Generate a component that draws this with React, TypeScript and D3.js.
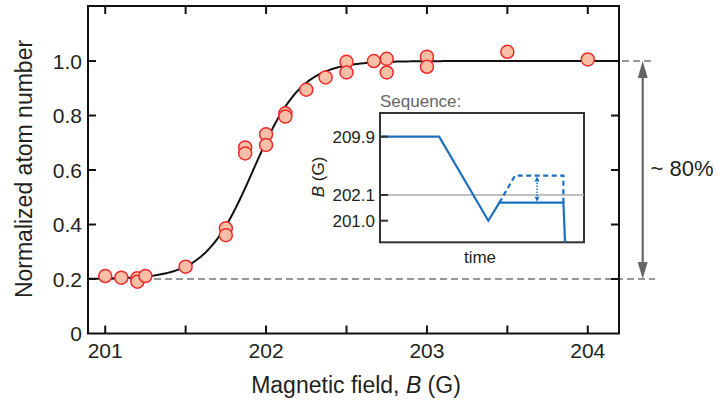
import React from "react";
import * as d3 from "d3";

// ---- Data ----
const fieldB = [201.0, 201.1, 201.2, 201.2, 201.25, 201.5, 201.75, 201.75, 201.87, 201.87, 202.0, 202.0, 202.12, 202.12, 202.25, 202.37, 202.5, 202.5, 202.67, 202.75, 202.75, 203.0, 203.0, 203.5, 204.0];
const atomNumber = [0.211, 0.205, 0.203, 0.19, 0.211, 0.245, 0.386, 0.361, 0.683, 0.661, 0.731, 0.692, 0.808, 0.796, 0.895, 0.94, 0.997, 0.958, 1.0, 1.008, 0.958, 1.016, 0.979, 1.034, 1.006];
const xMajorTicks = [201, 202, 203, 204];
const xAllTicks = [201, 201.5, 202, 202.5, 203, 203.5, 204];
const yTicks = [0, 0.2, 0.4, 0.6, 0.8, 1.0];
const yTickLabels = ["0", "0.2", "0.4", "0.6", "0.8", "1.0"];
// fit parameters (sigmoid from low to high level)
const fitLow = 0.2;
const fitHigh = 1.0;
const fitCenter = 201.92;
const fitWidth = 0.15;

// inset sequence (schematic)
const seqTime = [0, 0.29, 0.531, 0.585, 0.899, 0.907];
const seqField = [209.9, 209.9, 201.0, 201.77, 201.77, 200.08];
const seqDashTime = [0.585, 0.662, 0.899, 0.899];
const seqDashField = [201.77, 204.7, 204.7, 201.77];
const seqArrowTime = 0.77;
const insetTicks = [209.9, 202.1, 201.0];
const insetTickLabels = ["209.9", "202.1", "201.0"];
const resonanceField = 202.1;

const W = 718, H = 403;
const L = 88, R = 619, T = 6, Bm = 333.5;

export default function App() {
  const x = d3.scaleLinear().domain([200.893, 204.194]).range([L, R]);
  const y = d3.scaleLinear().domain([0, 1.202]).range([Bm, T]);

  const fitPts: [number, number][] = d3.range(0, 401).map((i) => {
    const b = 200.893 + (i / 400) * (204.194 - 200.893);
    const v = fitLow + (fitHigh - fitLow) / (1 + Math.exp(-(b - fitCenter) / fitWidth));
    return [x(b), y(v)];
  });
  const line = d3.line<[number, number]>().x((d) => d[0]).y((d) => d[1]);

  // inset scales
  const ix = d3.scaleLinear().domain([0, 1]).range([380, 584]);
  const iy = d3.scaleLinear().domain([200.08, 201.0, 202.1, 209.9, 213.1]).range([242.3, 220.7, 195, 136.7, 113]);
  const seqPath = line(seqTime.map((t, i) => [ix(t), iy(seqField[i])] as [number, number]));
  const dashPath = line(seqDashTime.map((t, i) => [ix(t), iy(seqDashField[i])] as [number, number]));
  const blue = "#1a6fbf";
  const ax = ix(seqArrowTime);
  const ayTop = iy(seqDashField[1]);
  const ayBot = iy(seqDashField[0]);

  const textCol = "#231f20";
  const font = "Liberation Sans, Arial, Helvetica, sans-serif";
  const arrowX = 642.7;
  const y1 = y(1.0), y02 = y(0.2);

  return (
    <svg width={W} height={H} style={{ position: "absolute", left: 0, top: 0 }} fontFamily={font}>
      <rect width={W} height={H} fill="#fff" />
      {/* dashed reference lines */}
      <line x1={L} x2={655} y1={y02} y2={y02} stroke="#777" strokeWidth={1.6} strokeDasharray="7,4" />
      <line x1={600} x2={655} y1={y1} y2={y1} stroke="#777" strokeWidth={1.6} strokeDasharray="7,4" />
      {/* fit curve */}
      <path d={line(fitPts) || ""} fill="none" stroke="#111" strokeWidth={2} />
      {/* points */}
      {fieldB.map((b, i) => (
        <circle key={i} cx={x(b)} cy={y(atomNumber[i])} r={6.5} fill="#f8bfa6" stroke="#ec2a2a" strokeWidth={1.5} />
      ))}
      {/* frame */}
      <rect x={L} y={T} width={R - L} height={Bm - T} fill="none" stroke="#111" strokeWidth={2} />
      {xAllTicks.map((t) => (
        <g key={"xt" + t}>
          <line x1={x(t)} x2={x(t)} y1={Bm} y2={Bm - 8} stroke="#111" strokeWidth={2} />
          <line x1={x(t)} x2={x(t)} y1={T} y2={T + 8} stroke="#111" strokeWidth={2} />
        </g>
      ))}
      {yTicks.filter((t) => t > 0).map((t) => (
        <g key={"yt" + t}>
          <line x1={L} x2={L + 8} y1={y(t)} y2={y(t)} stroke="#111" strokeWidth={2} />
          <line x1={R} x2={R - 8} y1={y(t)} y2={y(t)} stroke="#111" strokeWidth={2} />
        </g>
      ))}
      {xMajorTicks.map((t) => (
        <text key={"xl" + t} x={x(t)} y={358} textAnchor="middle" fontSize={21} fill={textCol}>{t}</text>
      ))}
      {yTicks.map((t, i) => (
        <text key={"yl" + t} x={82} y={y(t)} dy="0.36em" textAnchor="end" fontSize={21} fill={textCol}>{yTickLabels[i]}</text>
      ))}
      <text x={356} y={393} textAnchor="middle" fontSize={23} fill={textCol}>
        Magnetic field, <tspan fontStyle="italic">B</tspan> (G)
      </text>
      <text transform={`translate(32,${169}) rotate(-90)`} textAnchor="middle" fontSize={23} fill={textCol}>
        Normalized atom number
      </text>
      {/* double arrow */}
      <line x1={arrowX} x2={arrowX} y1={y1 + 14} y2={y02 - 14} stroke="#666" strokeWidth={2.2} />
      <path d={`M${arrowX},${y1} L${arrowX - 5},${y1 + 17} L${arrowX + 5},${y1 + 17} Z`} fill="#666" />
      <path d={`M${arrowX},${y02} L${arrowX - 5},${y02 - 17} L${arrowX + 5},${y02 - 17} Z`} fill="#666" />
      <text x={650.5} y={168} dy="0.36em" fontSize={22} fill={textCol}>~ 80%</text>

      {/* inset */}
      <text x={380} y={106.5} fontSize={17} fill="#666">Sequence:</text>
      <rect x={380} y={113} width={204} height={129.3} fill="#fff" stroke="#333" strokeWidth={2} />
      <line x1={380} x2={584} y1={iy(resonanceField)} y2={iy(resonanceField)} stroke="#aaa" strokeWidth={1.6} />
      <path d={dashPath || ""} fill="none" stroke={blue} strokeWidth={2.2} strokeDasharray="5,3.5" />
      <path d={seqPath || ""} fill="none" stroke={blue} strokeWidth={2.2} />
      <line x1={ax} x2={ax} y1={ayTop + 4} y2={ayBot - 4} stroke={blue} strokeWidth={1.4} strokeDasharray="1.5,1.5" />
      <path d={`M${ax},${ayTop + 1} L${ax - 2.5},${ayTop + 6} L${ax + 2.5},${ayTop + 6} Z`} fill={blue} />
      <path d={`M${ax},${ayBot - 1} L${ax - 2.5},${ayBot - 6} L${ax + 2.5},${ayBot - 6} Z`} fill={blue} />
      {insetTicks.map((t, i) => (
        <g key={"it" + t}>
          <line x1={380} x2={388} y1={iy(t)} y2={iy(t)} stroke="#333" strokeWidth={2} />
          <text x={375} y={iy(t)} dy="0.36em" textAnchor="end" fontSize={17} fill={textCol}>{insetTickLabels[i]}</text>
        </g>
      ))}
      <text x={480} y={263} textAnchor="middle" fontSize={17} fill={textCol}>time</text>
      <text transform="translate(324,177) rotate(-90)" textAnchor="middle" fontSize={17} fill={textCol}>
        <tspan fontStyle="italic">B</tspan> (G)
      </text>
    </svg>
  );
}
